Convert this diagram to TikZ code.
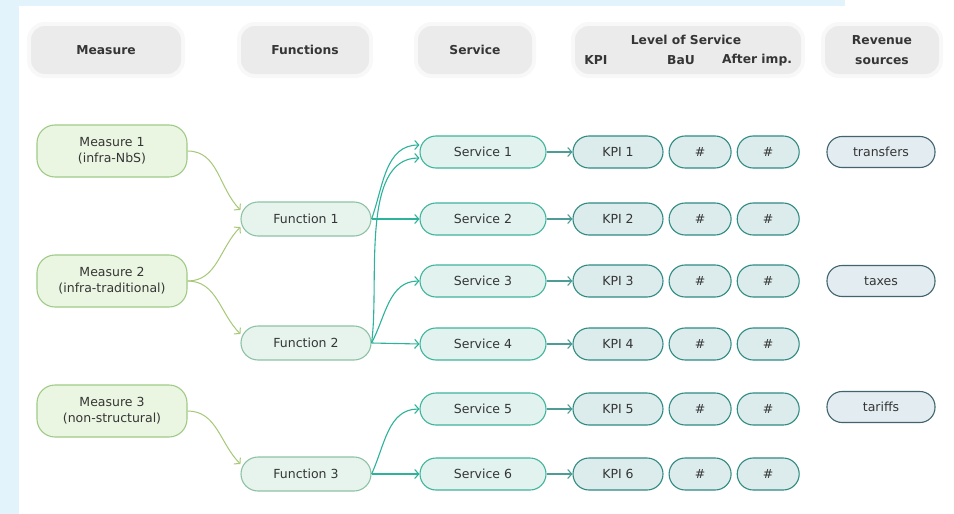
\documentclass[tikz,border=0pt]{standalone}
\usepackage{fontspec}
\setmainfont{DejaVu Sans}
\usepackage{tikz}
\usetikzlibrary{arrows.meta, positioning}
\definecolor{pageblue}{HTML}{E3F3FB}
\definecolor{hdrgrey}{HTML}{EBEBEB}
\definecolor{inktext}{HTML}{353535}
\definecolor{measfill}{HTML}{EAF6E2}
\definecolor{measline}{HTML}{9FCB86}
\definecolor{funcfill}{HTML}{E7F4EE}
\definecolor{funcline}{HTML}{8EC2A6}
\definecolor{servfill}{HTML}{E1F2EF}
\definecolor{servline}{HTML}{40B49C}
\definecolor{kpifill}{HTML}{DCEBEC}
\definecolor{kpiline}{HTML}{2F8B83}
\definecolor{revfill}{HTML}{E3ECF0}
\definecolor{revline}{HTML}{41646E}
\definecolor{leafgreen}{HTML}{A6C877}
\definecolor{linkteal}{HTML}{2DB39B}
\tikzset{
  hdrbox/.style={fill=hdrgrey, rounded corners=14pt,
    preaction={draw=hdrgrey!35, line width=8pt},
    minimum height=48pt, align=center, text=inktext,
    font=\bfseries\fontsize{12.3}{20}\selectfont},
  hdrlabel/.style={text=inktext, inner sep=0pt,
    font=\bfseries\fontsize{12.3}{14}\selectfont},
  basebox/.style={line width=1.1pt, align=center, text=inktext,
    font=\fontsize{12.5}{16}\selectfont},
  measbox/.style={basebox, draw=measline, fill=measfill,
    minimum width=150pt, minimum height=52pt, rounded corners=18pt},
  funcbox/.style={basebox, draw=funcline, fill=funcfill,
    minimum width=130pt, minimum height=34pt, rounded corners=17pt},
  servbox/.style={basebox, draw=servline, fill=servfill,
    minimum width=126pt, minimum height=32pt, rounded corners=16pt},
  kpibox/.style={basebox, draw=kpiline, fill=kpifill,
    minimum width=90pt, minimum height=32pt, rounded corners=16pt},
  valbox/.style={kpibox, minimum width=62pt},
  revbox/.style={basebox, draw=revline, fill=revfill,
    minimum width=108pt, minimum height=31pt, rounded corners=15pt},
  garr/.style={-{Straight Barb[length=4pt,width=9pt]}, draw=leafgreen, line width=1pt},
  tarr/.style={-{Straight Barb[length=4pt,width=9pt]}, draw=linkteal, line width=1.1pt},
}

\begin{document}
\begin{tikzpicture}[x=1pt, y=-1pt]
  % Page
  \useasboundingbox (0,0) rectangle (954,514);
  \fill[white] (0,0) rectangle (954,514);
  \fill[pageblue] (0,0) rectangle (19,514);
  \fill[pageblue] (0,0) rectangle (845,6);

  % Headers
  \node[hdrbox, minimum width=150pt] (hmeas) at (106,50) {Measure};
  \node[hdrbox, minimum width=128pt] (hfunc) at (305,50) {Functions};
  \node[hdrbox, minimum width=114pt] (hserv) at (475,50) {Service};
  \node[hdrbox, minimum width=226pt] (hlos) at (688,50) {};
  \node[hdrlabel] (hlostitle) at (686,40) {Level of Service};
  \node[hdrlabel] (hkpi) at (596,60) {KPI};
  \node[hdrlabel] (hbau) at (681,60) {BaU};
  \node[hdrlabel] (hafter) at (757,60) {After imp.};
  \node[hdrbox, minimum width=114pt] (hrev) at (882,50) {Revenue\\sources};

  % Measures
  \node[measbox] (m1) at (112,151) {Measure 1\\(infra-NbS)};
  \node[measbox] (m2) at (112,281) {Measure 2\\(infra-traditional)};
  \node[measbox] (m3) at (112,411) {Measure 3\\(non-structural)};

  % Functions
  \node[funcbox] (f1) at (306,219) {Function 1};
  \node[funcbox] (f2) at (306,343) {Function 2};
  \node[funcbox] (f3) at (306,474) {Function 3};

  % Services, KPIs and values
  \foreach \i/\y in {1/152, 2/219, 3/281, 4/344, 5/409, 6/474} {
    \node[servbox] (s\i) at (483,\y) {Service \i};
    \node[kpibox] (k\i) at (618,\y) {KPI \i};
    \node[valbox, right=5pt of k\i] (b\i) {\#};
    \node[valbox, right=5pt of b\i] (a\i) {\#};
    \draw[tarr, draw=kpiline!85] (s\i) -- (k\i);
  }

  % Revenue sources
  \node[revbox] (transfers) at (881,152) {transfers};
  \node[revbox] (taxes) at (881,281) {taxes};
  \node[revbox] (tariffs) at (881,407) {tariffs};

  % Arrows
  \draw[garr] (m1.east) to[out=0, in=135] ([yshift=9pt]f1.west);
  \draw[garr] (m2.east) to[out=0, in=-135] ([yshift=-8pt]f1.west);
  \draw[garr] (m2.east) to[out=0, in=135] ([yshift=9pt]f2.west);
  \draw[garr] (m3.east) to[out=0, in=135] ([yshift=10pt]f3.west);

  \draw[tarr] (f1.east) to[out=70, in=180] ([yshift=7pt]s1.west);
  \draw[tarr] (f1.east) -- (s2.west);
  \draw[tarr] (f2.east) to[out=82, in=180, looseness=0.8] ([yshift=-6pt]s1.west);
  \draw[tarr] (f2.east) to[out=62, in=180] (s3.west);
  \draw[tarr] (f2.east) -- (s4.west);
  \draw[tarr] (f3.east) to[out=65, in=180] (s5.west);
  \draw[tarr] (f3.east) -- (s6.west);
\end{tikzpicture}
\end{document}
